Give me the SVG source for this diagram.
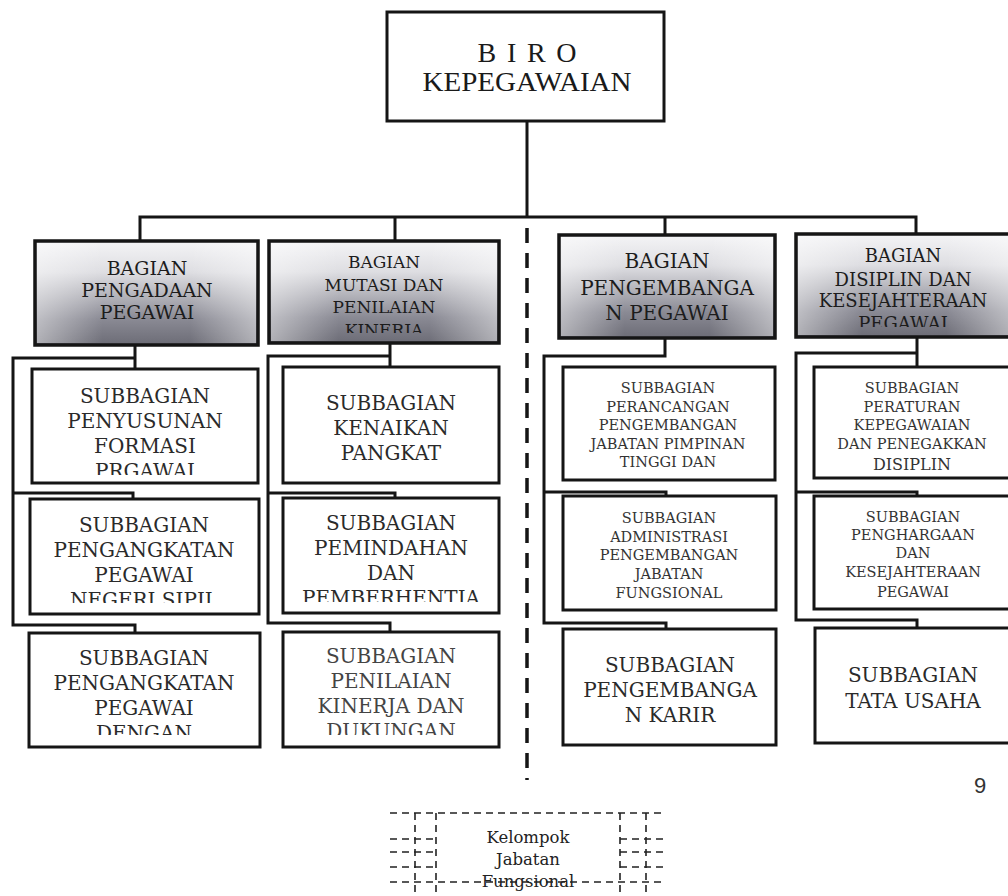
<svg xmlns="http://www.w3.org/2000/svg" width="1008" height="896" viewBox="0 0 1008 896">
<style>
.box{fill:#fff;stroke:#151515;stroke-width:3}
.bag{fill:url(#bg);stroke:#151515;stroke-width:3.5}
.bagh{fill:url(#bh);stroke:none}
.conn{fill:none;stroke:#151515;stroke-width:3;stroke-linejoin:miter}
.dash{fill:none;stroke:#151515;stroke-width:3.5;stroke-dasharray:15 10}
.kd{fill:none;stroke:#222;stroke-width:1.6;stroke-dasharray:7 5}
text{font-family:"DejaVu Serif","Liberation Serif",serif;text-anchor:middle;fill:#222}
.t0{font-family:"Liberation Serif",serif;font-size:28px;fill:#1a1a1a}
.b19{font-size:19px;fill:#1c1c1c}
.b17{font-size:17px;fill:#1c1c1c}
.b20{font-size:20px;fill:#1c1c1c}
.b18{font-size:18px;fill:#1c1c1c}
.s20{font-size:20px;fill:#2a2a2a}
.s20l{font-size:20px;fill:#444}
.s15{font-size:14.5px;fill:#333}
.s16{font-size:16px;fill:#333}
.k{font-size:16.5px;fill:#222}
.pg{font-family:"Liberation Sans",sans-serif;font-size:22px;fill:#333}
</style>
<defs>
<linearGradient id="bg" x1="0" y1="0" x2="0" y2="1">
<stop offset="0" stop-color="#f4f4f6"/>
<stop offset="0.3" stop-color="#dedee2"/>
<stop offset="0.75" stop-color="#8a8a94"/>
<stop offset="1" stop-color="#6c6c76"/>
</linearGradient>
<linearGradient id="bh" x1="0" y1="0" x2="1" y2="0">
<stop offset="0" stop-color="#fff" stop-opacity="0.45"/>
<stop offset="0.3" stop-color="#fff" stop-opacity="0"/>
<stop offset="0.7" stop-color="#fff" stop-opacity="0"/>
<stop offset="1" stop-color="#fff" stop-opacity="0.45"/>
</linearGradient>
<clipPath id="c1"><rect x="0" y="0" width="1008" height="333"/></clipPath>
<clipPath id="c2"><rect x="0" y="0" width="1008" height="327"/></clipPath>
<clipPath id="c3"><rect x="0" y="0" width="1008" height="475"/></clipPath>
<clipPath id="c4"><rect x="0" y="0" width="1008" height="603"/></clipPath>
<clipPath id="c5"><rect x="0" y="0" width="1008" height="735"/></clipPath>
<clipPath id="c6"><rect x="0" y="0" width="1008" height="602"/></clipPath>
</defs>
<rect width="1008" height="896" fill="#fff"/>

<g id="connectors">
<path class="conn" d="M527 121 V217 M140 241 V217 H916 V234 M395 217 V241 M665 217 V235"/>
<path class="dash" d="M527 228 V780"/>
<path class="conn" d="M135 345 V369 M135 358 H13 V625 H135 V633 M13 493 H133 V499"/>
<path class="conn" d="M390 343 V367 M390 356 H268 V623 H390 V632 M268 493 H395 V498"/>
<path class="conn" d="M665 338 V356 H544 V623 H666 V629 M544 492 H666 V496"/>
<path class="conn" d="M917 337 V367 M917 353 H796 V620 H917 V628 M796 492 H917 V496"/>
</g>

<g id="biro">
<rect class="box" x="387" y="12" width="277" height="109"/>
<text class="t0" x="527" y="62" textLength="99" lengthAdjust="spacing">B I R O</text>
<text class="t0" x="527" y="91" textLength="209" lengthAdjust="spacingAndGlyphs">KEPEGAWAIAN</text>
</g>

<g id="bagian-pengadaan">
<rect class="bag" x="35" y="241" width="223" height="104"/>
<rect class="bagh" x="37" y="243" width="219" height="100"/>
<text class="b19" x="147" y="275">BAGIAN</text>
<text class="b19" x="147" y="297">PENGADAAN</text>
<text class="b19" x="147" y="319">PEGAWAI</text>
</g>

<g id="bagian-mutasi">
<rect class="bag" x="269" y="241" width="230" height="102"/>
<rect class="bagh" x="271" y="243" width="226" height="98"/>
<text class="b17" x="384" y="268">BAGIAN</text>
<text class="b17" x="384" y="291">MUTASI DAN</text>
<text class="b17" x="384" y="313">PENILAIAN</text>
<text class="b17" x="384" y="336" clip-path="url(#c1)">KINERJA</text>
</g>

<g id="bagian-pengembangan">
<rect class="bag" x="559" y="235" width="216" height="103"/>
<rect class="bagh" x="561" y="237" width="212" height="99"/>
<text class="b20" x="667" y="268">BAGIAN</text>
<text class="b20" x="667" y="295">PENGEMBANGA</text>
<text class="b20" x="667" y="320">N PEGAWAI</text>
</g>

<g id="bagian-disiplin">
<rect class="bag" x="796" y="234" width="216" height="103"/>
<rect class="bagh" x="798" y="236" width="212" height="99"/>
<text class="b18" x="903" y="262">BAGIAN</text>
<text class="b18" x="903" y="286">DISIPLIN DAN</text>
<text class="b18" x="903" y="307">KESEJAHTERAAN</text>
<text class="b18" x="903" y="330" clip-path="url(#c2)">PEGAWAI</text>
</g>

<g id="sub-penyusunan">
<rect class="box" x="32" y="369" width="226" height="114"/>
<text class="s20" x="145" y="403">SUBBAGIAN</text>
<text class="s20" x="145" y="428">PENYUSUNAN</text>
<text class="s20" x="145" y="453">FORMASI</text>
<text class="s20" x="145" y="478" clip-path="url(#c3)">PRGAWAI</text>
</g>

<g id="sub-pengangkatan-pns">
<rect class="box" x="30" y="499" width="229" height="115"/>
<text class="s20" x="144" y="532">SUBBAGIAN</text>
<text class="s20" x="144" y="557">PENGANGKATAN</text>
<text class="s20" x="144" y="582">PEGAWAI</text>
<text class="s20" x="144" y="607" clip-path="url(#c4)">NEGERI SIPIL</text>
</g>

<g id="sub-pengangkatan-dengan">
<rect class="box" x="29" y="633" width="231" height="114"/>
<text class="s20" x="144" y="665">SUBBAGIAN</text>
<text class="s20" x="144" y="690">PENGANGKATAN</text>
<text class="s20" x="144" y="715">PEGAWAI</text>
<text class="s20" x="144" y="740" clip-path="url(#c5)">DENGAN</text>
</g>

<g id="sub-kenaikan">
<rect class="box" x="283" y="367" width="216" height="116"/>
<text class="s20" x="391" y="410">SUBBAGIAN</text>
<text class="s20" x="391" y="435">KENAIKAN</text>
<text class="s20" x="391" y="460">PANGKAT</text>
</g>

<g id="sub-pemindahan">
<rect class="box" x="283" y="498" width="216" height="115"/>
<text class="s20" x="391" y="530">SUBBAGIAN</text>
<text class="s20" x="391" y="555">PEMINDAHAN</text>
<text class="s20" x="391" y="580">DAN</text>
<text class="s20" x="391" y="605" clip-path="url(#c6)">PEMBERHENTIA</text>
</g>

<g id="sub-penilaian">
<rect class="box" x="283" y="632" width="216" height="115"/>
<text class="s20l" x="391" y="663">SUBBAGIAN</text>
<text class="s20l" x="391" y="688">PENILAIAN</text>
<text class="s20l" x="391" y="713">KINERJA DAN</text>
<text class="s20l" x="391" y="738" clip-path="url(#c5)">DUKUNGAN</text>
</g>

<g id="sub-perancangan">
<rect class="box" x="563" y="367" width="212" height="113"/>
<text class="s15" x="668" y="393">SUBBAGIAN</text>
<text class="s15" x="668" y="412">PERANCANGAN</text>
<text class="s15" x="668" y="430">PENGEMBANGAN</text>
<text class="s15" x="668" y="449">JABATAN PIMPINAN</text>
<text class="s15" x="668" y="467">TINGGI DAN</text>
</g>

<g id="sub-administrasi">
<rect class="box" x="563" y="496" width="213" height="114"/>
<text class="s15" x="669" y="523">SUBBAGIAN</text>
<text class="s15" x="669" y="542">ADMINISTRASI</text>
<text class="s15" x="669" y="560">PENGEMBANGAN</text>
<text class="s15" x="669" y="579">JABATAN</text>
<text class="s15" x="669" y="598">FUNGSIONAL</text>
</g>

<g id="sub-karir">
<rect class="box" x="563" y="629" width="213" height="116"/>
<text class="s20" x="670" y="672">SUBBAGIAN</text>
<text class="s20" x="670" y="697">PENGEMBANGA</text>
<text class="s20" x="670" y="722">N KARIR</text>
</g>

<g id="sub-peraturan">
<rect class="box" x="814" y="367" width="198" height="111"/>
<text class="s15" x="912" y="393">SUBBAGIAN</text>
<text class="s15" x="912" y="412">PERATURAN</text>
<text class="s15" x="912" y="430">KEPEGAWAIAN</text>
<text class="s15" x="912" y="449">DAN PENEGAKKAN</text>
<text class="s16" x="912" y="470">DISIPLIN</text>
</g>

<g id="sub-penghargaan">
<rect class="box" x="814" y="496" width="198" height="113"/>
<text class="s15" x="913" y="522">SUBBAGIAN</text>
<text class="s15" x="913" y="540">PENGHARGAAN</text>
<text class="s15" x="913" y="558">DAN</text>
<text class="s15" x="913" y="577">KESEJAHTERAAN</text>
<text class="s15" x="913" y="597">PEGAWAI</text>
</g>

<g id="sub-tatausaha">
<rect class="box" x="815" y="628" width="197" height="115"/>
<text class="s20" x="913" y="682">SUBBAGIAN</text>
<text class="s20" x="913" y="708">TATA USAHA</text>
</g>

<text class="pg" x="980" y="793">9</text>

<g id="kelompok">
<path class="kd" d="M436 813 V896 M620 813 V896 M415 813 V896 M646 813 V896"/>
<path class="kd" d="M390 813 H663 M390 882 H663"/>
<path class="kd" d="M390 839 H436 M390 852 H436 M390 867 H436 M620 839 H663 M620 852 H663 M620 867 H663"/>
<text class="k" x="528" y="843">Kelompok</text>
<text class="k" x="528" y="865">Jabatan</text>
<text class="k" x="528" y="887">Fungsional</text>
</g>
</svg>
